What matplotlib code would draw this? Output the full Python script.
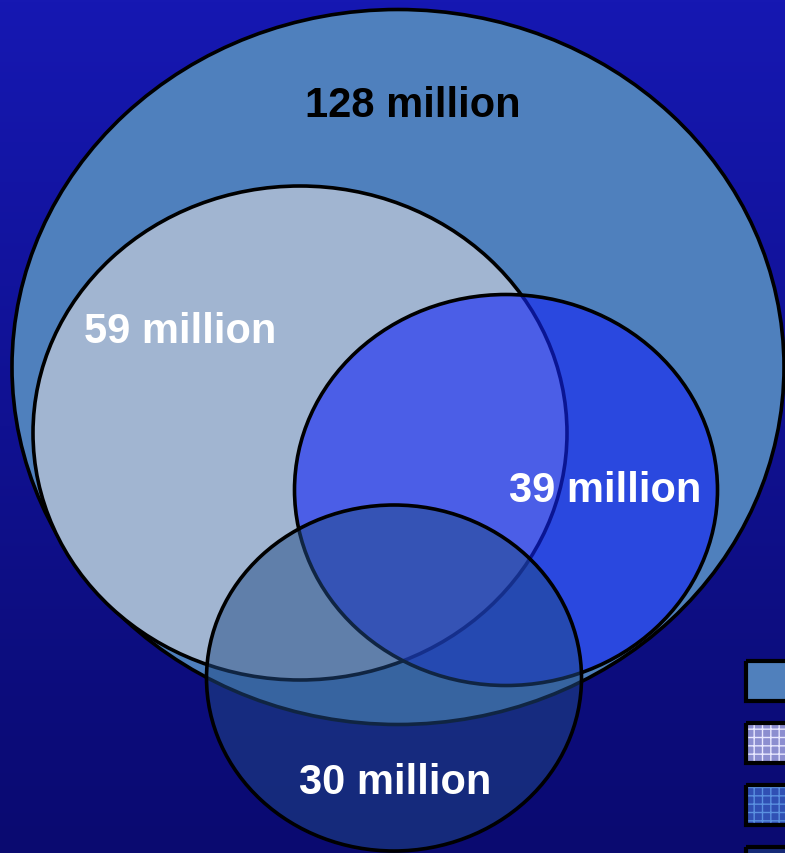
import numpy as np
import matplotlib
matplotlib.use("Agg")
import matplotlib.pyplot as plt
from matplotlib.patches import Ellipse, Rectangle

# Venn data (millions)
set_values = [128, 59, 39, 30]
set_labels = [f"{v} million" for v in set_values]

# Layout in pixel coordinates (x center, y center, width, height)
ellipses = [(398, 368, 772, 715), (300, 434, 534, 494),
            (506, 491, 423, 391), (394, 679, 375, 346)]
face_colors = [(0.31, 0.50, 0.74, 1.0), (0.63, 0.71, 0.82, 1.0),
               (0.07, 0.14, 0.97, 0.6), (0.13, 0.29, 0.52, 0.5)]
label_pos = [(413, 106), (180, 332), (605, 491), (395, 783)]
label_colors = ['black', 'white', 'white', 'white']

plt.rcParams['font.family'] = ['Liberation Sans', 'DejaVu Sans']

fig = plt.figure(figsize=(7.85, 8.54), dpi=100)
ax = fig.add_axes([0, 0, 1, 1])
ax.set_xlim(0, 785)
ax.set_ylim(854, 0)
ax.axis('off')

# background gradient
top = np.array([22, 24, 178]) / 255
bot = np.array([10, 10, 112]) / 255
t = np.linspace(0, 1, 256)[:, None]
grad = top[None, :] * (1 - t) + bot[None, :] * t
ax.imshow(grad[:, None, :], extent=[0, 785, 854, 0], aspect='auto', zorder=0)

for i, (cx, cy, w, h) in enumerate(ellipses):
    ax.add_patch(Ellipse((cx, cy), w, h, facecolor=face_colors[i],
                         edgecolor='none', zorder=2 + i))
    ax.add_patch(Ellipse((cx, cy), w, h, facecolor='none',
                         edgecolor='black', linewidth=2.6, zorder=2 + i))

for lab, (x, y), c in zip(set_labels, label_pos, label_colors):
    ax.text(x, y, lab, color=c, fontsize=30, fontweight='bold',
            ha='center', va='center', zorder=10)

# legend swatches (cut off on the right edge)
sw_fill = ['#5080bc', '#8c8ed0', '#3050b4', '#162a78']
sw_hatch = [None, '++', '++', None]
sw_hcol = ['none', '#e8e8ff', '#5a90e0', 'none']
sw_y = [662, 724, 786, 848]
for y, fc, hp, hc in zip(sw_y, sw_fill, sw_hatch, sw_hcol):
    ax.add_patch(Rectangle((746, y), 60, 40, facecolor=fc, hatch=hp,
                           edgecolor=hc, linewidth=0, zorder=11))
    ax.add_patch(Rectangle((746, y), 60, 40, facecolor='none',
                           edgecolor='black', linewidth=3, zorder=12))

fig.savefig("out.png", dpi=100)
